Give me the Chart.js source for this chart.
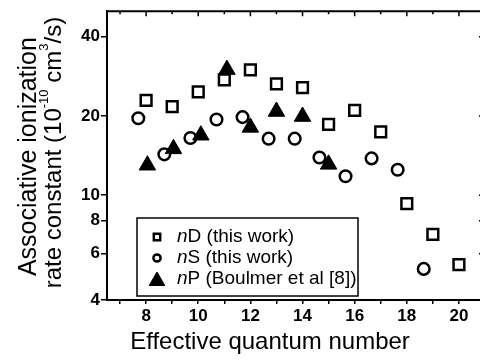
<!DOCTYPE html>
<html>
<head>
<meta charset="utf-8">
<script src="https://cdn.jsdelivr.net/npm/chart.js@4/dist/chart.umd.min.js"></script>
<style>
	html, body {margin: 0; padding: 0; background: #fff;}
	#wrap {width: 480px; height: 360px; overflow: hidden; position: relative;}
	canvas {display: block;}
</style>
</head>
<body>
<div id="wrap"><canvas id="chart" width="500" height="360"></canvas></div>
<script>
const FONT = '"Liberation Sans", Arial, Helvetica, sans-serif';

// nD states (this work)
const ND_N = [8, 9, 10, 11, 12, 13, 14, 15, 16, 17, 18, 19, 20];
const ND_K = [22.9, 21.7, 24.7, 27.4, 29.9, 26.5, 25.6, 18.6, 21.0, 17.4, 9.3, 7.1, 5.45];

// nS states (this work)
const NS_N = [7.7, 8.7, 9.7, 10.7, 11.7, 12.7, 13.7, 14.65, 15.65, 16.65, 17.65, 18.65];
const NS_K = [19.6, 14.3, 16.5, 19.4, 19.8, 16.4, 16.4, 13.9, 11.8, 13.8, 12.5, 5.25];

// nP states (Boulmer et al)
const NP_N = [8.05, 9.05, 10.1, 11.1, 12.0, 13.0, 14.0, 15.0];
const NP_K = [13.0, 15.0, 16.9, 30.0, 18.1, 20.8, 19.9, 13.1];

const SERIES_LABELS = ['D (this work)', 'S (this work)', 'P (Boulmer et al [8])'];
const X_TICKS = [7, 8, 9, 10, 11, 12, 13, 14, 15, 16, 17, 18, 19, 20, 21];
const Y_TICKS = [4, 6, 8, 10, 20, 40];

const toPoints = (xs, ys) => xs.map((x, i) => ({x, y: ys[i]}));

// text with superscript pieces, centred on (cx, cy) in the current transform
function drawRich(ctx, parts, cx, cy, size) {
	const supSize = Math.round(size * 0.55);
	let total = 0;
	parts.forEach(p => {
		ctx.font = `${p.sup ? supSize : size}px ${FONT}`;
		p.w = ctx.measureText(p.t).width;
		total += p.w;
	});
	let x = cx - total / 2;
	ctx.textBaseline = 'middle';
	ctx.textAlign = 'left';
	parts.forEach(p => {
		ctx.font = `${p.sup ? supSize : size}px ${FONT}`;
		ctx.fillText(p.t, x, p.sup ? cy - size * 0.38 : cy);
		x += p.w;
	});
}

// both axis titles; the y one needs superscripts
const axisTitles = {
	id: 'axisTitles',
	afterDraw(chart) {
		const ctx = chart.ctx;
		const mid = (chart.chartArea.top + chart.chartArea.bottom) / 2;
		ctx.save();
		ctx.fillStyle = '#000';
		drawRich(ctx, [{t: 'Effective quantum number'}], 270, 342, 24);
		ctx.restore();

		ctx.save();
		ctx.fillStyle = '#000';
		ctx.translate(29, mid + 1);
		ctx.rotate(-Math.PI / 2);
		drawRich(ctx, [{t: 'Associative ionization'}], 0, 0, 25);
		ctx.restore();

		ctx.save();
		ctx.fillStyle = '#000';
		ctx.translate(54, mid - 3);
		ctx.rotate(-Math.PI / 2);
		drawRich(ctx, [
			{t: 'rate constant (10'},
			{t: '-10', sup: true},
			{t: ' cm'},
			{t: '3', sup: true},
			{t: '/s)'}
		], 0, 0, 24);
		ctx.restore();
	}
};

// top and right edges of the box, ticks pointing inwards
const frame = {
	id: 'frame',
	afterDatasetsDraw(chart) {
		const {ctx, chartArea: a, scales} = chart;
		ctx.save();
		ctx.strokeStyle = '#000';
		ctx.lineWidth = 2;
		ctx.beginPath();
		ctx.moveTo(a.left, a.top);
		ctx.lineTo(a.right, a.top);
		ctx.lineTo(a.right, a.bottom);
		ctx.stroke();
		ctx.lineWidth = 1.5;
		ctx.beginPath();
		X_TICKS.forEach(v => {
			const px = scales.x.getPixelForValue(v);
			ctx.moveTo(px, a.top);
			ctx.lineTo(px, a.top + (v % 2 === 0 ? 5 : 3));
		});
		Y_TICKS.forEach(v => {
			const py = scales.y.getPixelForValue(v);
			ctx.moveTo(a.right, py);
			ctx.lineTo(a.right - 6, py);
		});
		ctx.stroke();
		ctx.restore();
	}
};

// boxed legend in the lower left corner of the plot
const legendBox = {
	id: 'legendBox',
	afterDraw(chart) {
		const {ctx, chartArea: a} = chart;
		const left = a.left + 30, right = a.left + 251;
		const top = a.bottom - 82, bottom = a.bottom - 4;
		ctx.save();
		ctx.strokeStyle = '#000';
		ctx.lineWidth = 1.5;
		ctx.strokeRect(left, top, right - left, bottom - top);
		const sizes = [4.5, 3.6, 9];
		chart.data.datasets.forEach((ds, i) => {
			const y = top + 19 + i * 21;
			ctx.fillStyle = ds.backgroundColor;
			ctx.strokeStyle = ds.borderColor;
			ctx.lineWidth = i === 2 ? 1 : 2.5;
			Chart.helpers.drawPoint(ctx, {
				pointStyle: ds.pointStyle,
				radius: sizes[i],
				borderWidth: ctx.lineWidth
			}, left + 20, i === 2 ? y + 2 : y);
			ctx.fillStyle = '#000';
			ctx.textBaseline = 'middle';
			ctx.textAlign = 'left';
			ctx.font = `italic 19px ${FONT}`;
			ctx.fillText('n', left + 40, y);
			const nw = ctx.measureText('n').width;
			ctx.font = `19px ${FONT}`;
			ctx.fillText(SERIES_LABELS[i], left + 40 + nw, y);
		});
		ctx.restore();
	}
};

const tickFont = {family: FONT, size: 17, weight: 'bold'};

new Chart(document.getElementById('chart').getContext('2d'), {
	type: 'scatter',
	data: {
		datasets: [
			{
				label: 'n' + SERIES_LABELS[0],
				data: toPoints(ND_N, ND_K),
				pointStyle: 'rect',
				radius: 7.6,
				borderWidth: 2.5,
				borderColor: '#000',
				backgroundColor: '#fff',
				order: 2
			},
			{
				label: 'n' + SERIES_LABELS[1],
				data: toPoints(NS_N, NS_K),
				pointStyle: 'circle',
				radius: 5.8,
				borderWidth: 2.5,
				borderColor: '#000',
				backgroundColor: '#fff',
				order: 1
			},
			{
				label: 'n' + SERIES_LABELS[2],
				data: toPoints(NP_N, NP_K),
				pointStyle: 'triangle',
				radius: 9.5,
				borderWidth: 1,
				borderColor: '#000',
				backgroundColor: '#000',
				order: 0
			}
		]
	},
	options: {
		responsive: false,
		animation: false,
		layout: {padding: {left: 0, top: 6, right: 15, bottom: 0}},
		plugins: {
			legend: {display: false},
			tooltip: {enabled: false}
		},
		scales: {
			x: {
				type: 'linear',
				min: 6.5,
				max: 21,
				afterBuildTicks: s => { s.ticks = X_TICKS.map(v => ({value: v})); },
				afterFit: s => { s.height = 60; },
				ticks: {
					autoSkip: false,
					maxRotation: 0,
					padding: 2,
					color: '#000',
					font: tickFont,
					callback: v => (v % 2 === 0 && v < 21 ? v : '')
				},
				grid: {drawOnChartArea: false, tickLength: 4, color: '#000', lineWidth: 1.5},
				border: {color: '#000', width: 2}
			},
			y: {
				type: 'logarithmic',
				min: 4,
				max: 50,
				afterBuildTicks: s => { s.ticks = Y_TICKS.map(v => ({value: v})); },
				afterFit: s => { s.width = 107; },
				ticks: {
					autoSkip: false,
					padding: 1,
					color: '#000',
					font: tickFont,
					callback: v => (Y_TICKS.includes(v) ? v : '')
				},
				grid: {drawOnChartArea: false, tickLength: 6, color: '#000', lineWidth: 1.5},
				border: {color: '#000', width: 2}
			}
		}
	},
	plugins: [frame, axisTitles, legendBox]
});
</script>
</body>
</html>
